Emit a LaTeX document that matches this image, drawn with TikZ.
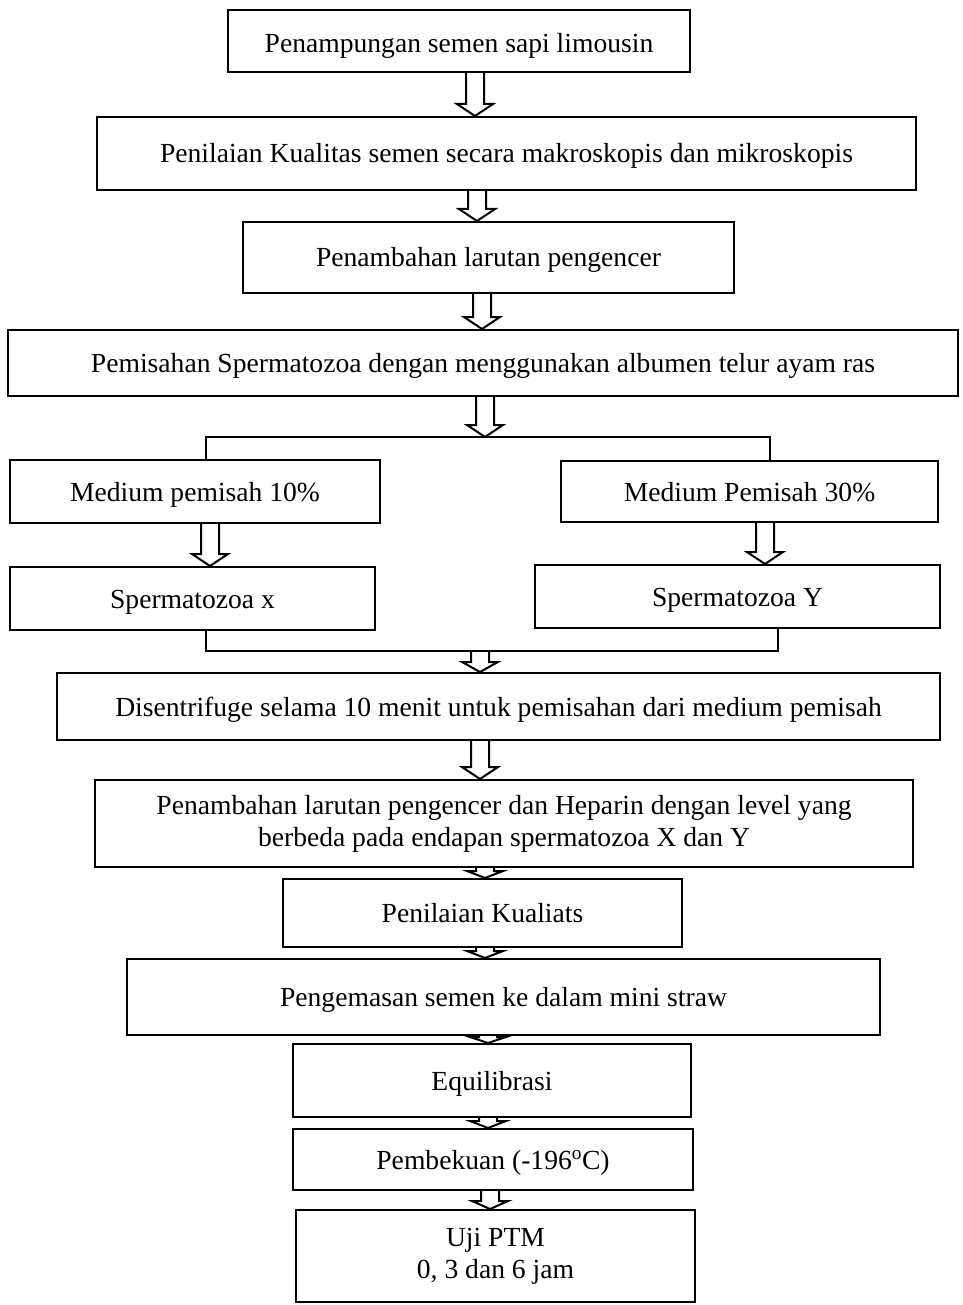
\documentclass[tikz,border=0pt]{standalone}
\usepackage{fontspec}
\setmainfont{Liberation Serif}
\usetikzlibrary{calc}
\tikzset{
  box/.style={draw, line width=2pt, inner sep=0pt, align=center, font=\fontsize{27.6}{32}\selectfont},
  one/.style={text height=24pt, text depth=5pt},
  arr/.style={draw, line width=2pt, line join=miter},
  ln/.style={line width=2pt}
}
\newcommand\bx[7][one]{\node[box, #1, minimum width={#5pt-#3pt}, minimum height={#6pt-#4pt}] (#2) at ({(#3+#5)/2},{(#4+#6)/2}) {#7};}
\newcommand\barrow[4][12]{\draw[arr] let \p1=(#3), \p2=(#4) in (#2pt-9pt,\y1) -- (#2pt-9pt,\y2+#1pt) -- (#2pt-18pt,\y2+#1pt) -- (#2pt,\y2) -- (#2pt+18pt,\y2+#1pt) -- (#2pt+9pt,\y2+#1pt) -- (#2pt+9pt,\y1);}
\begin{document}
\begin{tikzpicture}[x=1pt,y=-1pt]
\useasboundingbox (0,0) rectangle (962,1305);
\bx[text height=27pt, text depth=3pt]{b1}{228}{10}{690}{72}{Penampungan semen sapi limousin}
\bx{b2}{97}{117}{916}{190}{Penilaian Kualitas semen secara makroskopis dan mikroskopis}
\bx{b3}{243}{222}{734}{293}{Penambahan larutan pengencer}
\bx{b4}{8}{330}{958}{396}{Pemisahan Spermatozoa dengan menggunakan albumen telur ayam ras}
\bx{m10}{10}{460}{380}{523}{Medium pemisah 10\%}
\bx{m30}{561}{461}{938}{522}{Medium Pemisah 30\%}
\bx{sx}{10}{567}{375}{630}{Spermatozoa x}
\bx{sy}{535}{565}{940}{628}{Spermatozoa Y}
\bx{d}{57}{673}{940}{740}{Disentrifuge selama 10 menit untuk pemisahan dari medium pemisah}
\bx[]{h}{95}{780}{913}{867}{Penambahan larutan pengencer dan Heparin dengan level yang\\berbeda pada endapan spermatozoa X dan Y}
\bx{k}{283}{879}{682}{947}{Penilaian Kualiats}
\bx{p}{127}{959}{880}{1035}{Pengemasan semen ke dalam mini straw}
\bx{e}{293}{1044}{691}{1117}{Equilibrasi}
\bx{f}{293}{1129}{693}{1190}{Pembekuan (-196\textsuperscript{o}C)}
\bx[]{u}{296}{1210}{695}{1302}{Uji PTM\\0, 3 dan 6 jam}
\coordinate (bl) at (206,437);
\coordinate (br) at (770,437);
\coordinate (jl) at (206,651);
\coordinate (jr) at (778,651);
\draw[ln] (m10.north -| bl) -- (bl) -- (br) -- (m30.north -| br);
\draw[ln] (sx.south -| jl) -- (jl) -- (jr) -- (sy.south -| jr);
\barrow{475}{b1.south}{b2.north}
\barrow{477}{b2.south}{b3.north}
\barrow{482}{b3.south}{b4.north}
\barrow{485}{b4.south}{bl}
\barrow{210}{m10.south}{sx.north}
\barrow{765}{m30.south}{sy.north}
\barrow[10]{480}{jl}{d.north}
\barrow{480}{d.south}{h.north}
\barrow[7]{485}{h.south}{k.north}
\barrow[7]{485}{k.south}{p.north}
\barrow[6]{488}{p.south}{e.north}
\barrow[7]{488}{e.south}{f.north}
\barrow[8]{490}{f.south}{u.north}
\end{tikzpicture}
\end{document}
